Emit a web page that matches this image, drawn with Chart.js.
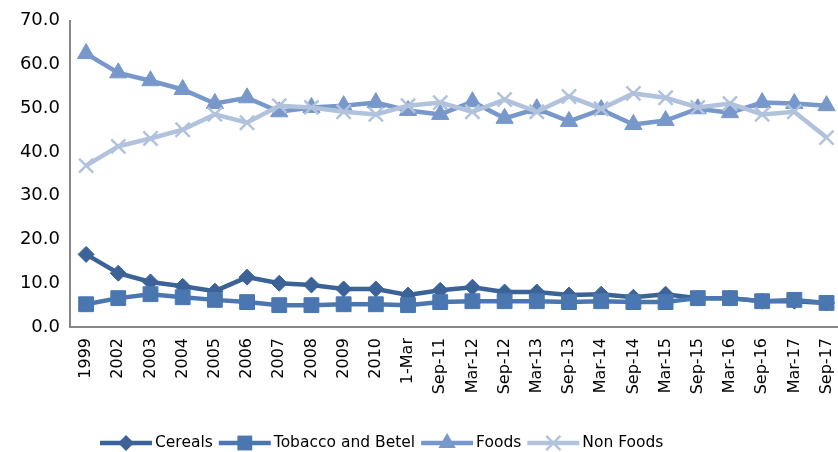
<!DOCTYPE html>
<html>
<head>
<meta charset="utf-8">
<script src="https://cdn.jsdelivr.net/npm/chart.js@4.4.1/dist/chart.umd.min.js"></script>
<style>
  html, body { margin: 0; padding: 0; background: #fff; overflow: hidden; }
  #wrap { width: 857px; height: 452px; position: relative; }
</style>
</head>
<body>
<div id="wrap"><canvas id="c"></canvas></div>
<script>
// Survey rounds
const categories = ['1999','2002','2003','2004','2005','2006','2007','2008','2009','2010','1-Mar',
  'Sep-11','Mar-12','Sep-12','Mar-13','Sep-13','Mar-14','Sep-14','Mar-15','Sep-15','Mar-16','Sep-16','Mar-17','Sep-17'];

// Expenditure shares (%)
const cereals = [16.6,12.3,10.3,9.3,8.2,11.4,10.0,9.6,8.7,8.7,7.3,8.4,9.1,8.0,8.0,7.3,7.5,6.8,7.5,6.6,6.6,5.9,5.9,5.5];
const tobaccoBetel = [5.2,6.6,7.5,6.8,6.2,5.7,5.0,5.0,5.2,5.2,5.0,5.7,5.9,5.9,5.9,5.7,5.9,5.7,5.7,6.6,6.6,5.9,6.2,5.5];
const foods = [62.5,58.1,56.3,54.3,51.1,52.4,49.2,50.2,50.6,51.3,49.5,48.6,51.5,47.7,49.9,47.0,49.7,46.3,47.2,49.9,49.0,51.3,51.1,50.6];
const nonFoods = [36.9,41.3,43.1,45.1,48.6,46.7,50.6,50.2,49.2,48.6,50.6,51.3,49.2,52.0,49.2,52.7,49.9,53.4,52.4,50.2,51.1,48.6,49.2,43.3];

// Y axis ticks
const yTicks = [0,10,20,30,40,50,60,70];

const AXIS = '#868686';
const FONT = 'DejaVu Sans';

const series = [
  { label: 'Cereals', data: cereals, color: '#3B6398', style: 'rectRot', radius: 8, order: 4 },
  { label: 'Tobacco and Betel', data: tobaccoBetel, color: '#4A77B0', style: 'rect', radius: 10.5, order: 3 },
  { label: 'Foods', data: foods, color: '#7898CB', style: 'triangle', radius: 10, order: 2 },
  { label: 'Non Foods', data: nonFoods, color: '#B1C2DD', style: 'crossRot', radius: 10, order: 1 }
];

// Marker drawn next to each legend entry
function drawMarker(ctx, style, r, x, y) {
  ctx.beginPath();
  if (style === 'rectRot') {
    ctx.moveTo(x, y - r); ctx.lineTo(x + r, y); ctx.lineTo(x, y + r); ctx.lineTo(x - r, y);
    ctx.closePath(); ctx.fill();
  } else if (style === 'rect') {
    const s = r * Math.SQRT1_2;
    ctx.rect(x - s, y - s, 2 * s, 2 * s); ctx.fill();
  } else if (style === 'triangle') {
    const w = r * Math.sqrt(3) / 2;
    ctx.moveTo(x, y - r); ctx.lineTo(x + w, y + r / 2); ctx.lineTo(x - w, y + r / 2);
    ctx.closePath(); ctx.fill();
  } else if (style === 'crossRot') {
    const s = r * Math.SQRT1_2;
    ctx.moveTo(x - s, y - s); ctx.lineTo(x + s, y + s);
    ctx.moveTo(x + s, y - s); ctx.lineTo(x - s, y + s);
    ctx.lineWidth = 2.5; ctx.stroke();
  }
}

const bottomLegend = {
  id: 'bottomLegend',
  afterDraw(chart) {
    const ctx = chart.ctx;
    ctx.save();
    ctx.font = '15.5px ' + FONT;
    ctx.textBaseline = 'middle';
    let x = 100;
    const y = 443;
    series.forEach(s => {
      ctx.strokeStyle = s.color;
      ctx.fillStyle = s.color;
      ctx.lineWidth = 4.5;
      ctx.beginPath(); ctx.moveTo(x, y); ctx.lineTo(x + 52, y); ctx.stroke();
      drawMarker(ctx, s.style, s.radius, x + 26, y);
      ctx.fillStyle = '#000';
      ctx.fillText(s.label, x + 55, y);
      x += 55 + ctx.measureText(s.label).width + 6;
    });
    ctx.restore();
  }
};

new Chart(document.getElementById('c'), {
  type: 'line',
  data: {
    labels: categories,
    datasets: series.map(s => ({
      label: s.label,
      data: s.data,
      order: s.order,
      borderColor: s.color,
      backgroundColor: s.color,
      borderWidth: 4.5,
      tension: 0,
      fill: false,
      pointStyle: s.style,
      pointRadius: s.radius,
      pointHoverRadius: s.radius,
      pointBackgroundColor: s.color,
      pointBorderColor: s.color,
      pointBorderWidth: s.style === 'crossRot' ? 2.5 : 1
    }))
  },
  options: {
    responsive: true,
    maintainAspectRatio: false,
    animation: false,
    layout: { padding: { top: 19, right: 0, left: 0, bottom: 0 } },
    plugins: { legend: { display: false }, tooltip: { enabled: false } },
    scales: {
      x: {
        offset: true,
        grid: { display: false, drawTicks: false },
        border: { display: true, color: AXIS, width: 2 },
        ticks: {
          autoSkip: false, minRotation: 90, maxRotation: 90,
          color: '#000', font: { family: FONT, size: 16 }, padding: 11
        },
        afterFit(scale) { scale.height = 125; }
      },
      y: {
        min: 0, max: 70,
        afterBuildTicks(scale) { scale.ticks = yTicks.map(v => ({ value: v })); },
        grid: { display: false, drawTicks: false },
        border: { display: true, color: AXIS, width: 2 },
        ticks: {
          color: '#000', font: { family: FONT, size: 18 }, padding: 10,
          callback: v => Number(v).toFixed(1)
        },
        afterFit(scale) { scale.width = 70; }
      }
    }
  },
  plugins: [bottomLegend]
});
</script>
</body>
</html>
